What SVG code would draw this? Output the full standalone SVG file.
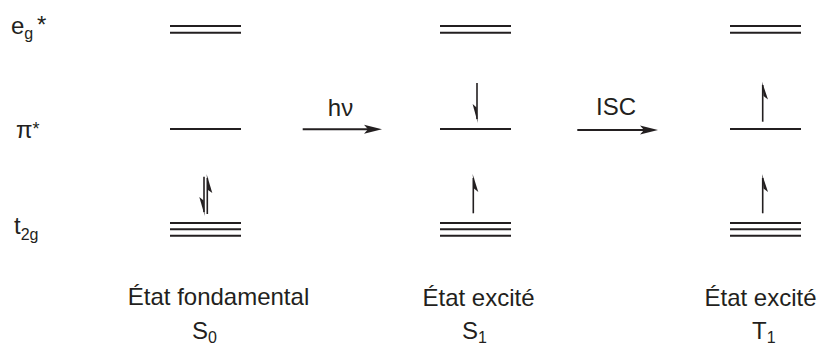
<svg xmlns="http://www.w3.org/2000/svg" width="829" height="347" viewBox="0 0 829 347">
<style>
.lv{stroke:#231f20;stroke-width:2;fill:none}
.sh{stroke:#231f20;stroke-width:2;fill:none}
.el{stroke:#231f20;stroke-width:1.6;fill:none}
.hd{fill:#231f20;stroke:none}
text{font-family:"Liberation Sans",Arial,sans-serif;fill:#231f20;font-size:24px}
.sub{font-size:16px}
.mid{text-anchor:middle}
</style>
<rect width="829" height="347" fill="#fff"/>
<g id="labels">
<text x="11" y="34">e<tspan class="sub" dy="5">g</tspan><tspan x="37" dy="-6">*</tspan></text>
<text x="16" y="138" font-size="22">π<tspan font-size="18" dy="-3">*</tspan></text>
<text x="14" y="234">t<tspan class="sub" dy="6">2g</tspan></text>
</g>
<g id="S0">
<line class="lv" x1="170" y1="26" x2="241" y2="26"/><line class="lv" x1="170" y1="32.7" x2="241" y2="32.7"/>
<line class="lv" x1="170" y1="129" x2="241" y2="129"/>
<line class="lv" x1="170" y1="223" x2="241" y2="223"/><line class="lv" x1="170" y1="229.3" x2="241" y2="229.3"/><line class="lv" x1="170" y1="235.7" x2="241" y2="235.7"/>
<line class="el" x1="204" y1="176.7" x2="204" y2="212"/><polygon class="hd" points="204.8,216 199.3,197 203.6,200.5"/>
<line class="el" x1="207.3" y1="214" x2="207.3" y2="178"/><polygon class="hd" points="206.6,174 212.3,193 208,190"/>
<text class="mid" x="218.5" y="305">État fondamental</text>
<text x="192" y="339">S<tspan class="sub" dy="3.5">0</tspan></text>
</g>
<g id="S1">
<line class="lv" x1="440" y1="26" x2="511" y2="26"/><line class="lv" x1="440" y1="32.7" x2="511" y2="32.7"/>
<line class="lv" x1="440" y1="129" x2="511" y2="129"/>
<line class="lv" x1="440" y1="223" x2="511" y2="223"/><line class="lv" x1="440" y1="229.3" x2="511" y2="229.3"/><line class="lv" x1="440" y1="235.7" x2="511" y2="235.7"/>
<line class="el" x1="477" y1="83" x2="477" y2="119"/><polygon class="hd" points="477.8,123 472.6,104 476.6,107.5"/>
<line class="el" x1="473.3" y1="213.3" x2="473.3" y2="178"/><polygon class="hd" points="472.6,174 478.3,192 474,188.5"/>
<text class="mid" x="478.5" y="306">État excité</text>
<text x="462" y="339">S<tspan class="sub" dy="3.5">1</tspan></text>
</g>
<g id="T1">
<line class="lv" x1="730" y1="26" x2="801" y2="26"/><line class="lv" x1="730" y1="32.7" x2="801" y2="32.7"/>
<line class="lv" x1="730" y1="129" x2="801" y2="129"/>
<line class="lv" x1="730" y1="223" x2="801" y2="223"/><line class="lv" x1="730" y1="229.3" x2="801" y2="229.3"/><line class="lv" x1="730" y1="235.7" x2="801" y2="235.7"/>
<line class="el" x1="762.7" y1="121.7" x2="762.7" y2="85"/><polygon class="hd" points="762,81.7 768,99.5 763.5,96"/>
<line class="el" x1="762.7" y1="213.3" x2="762.7" y2="178"/><polygon class="hd" points="762,174 768,192 763.5,188.5"/>
<text class="mid" x="760.5" y="306">État excité</text>
<text x="752" y="339">T<tspan class="sub" dy="3.5">1</tspan></text>
</g>
<g id="connectors">
<line class="sh" x1="302.7" y1="129.3" x2="368" y2="129.3"/><polygon class="hd" points="364,124.8 382,129.3 364,133.8 368,129.3"/>
<text class="mid" x="340.5" y="116" font-size="22">hν</text>
<line class="sh" x1="577.3" y1="130" x2="644" y2="130"/><polygon class="hd" points="640,125.5 658,130 640,134.5 644,130"/>
<text class="mid" x="616" y="115">ISC</text>
</g>
</svg>
